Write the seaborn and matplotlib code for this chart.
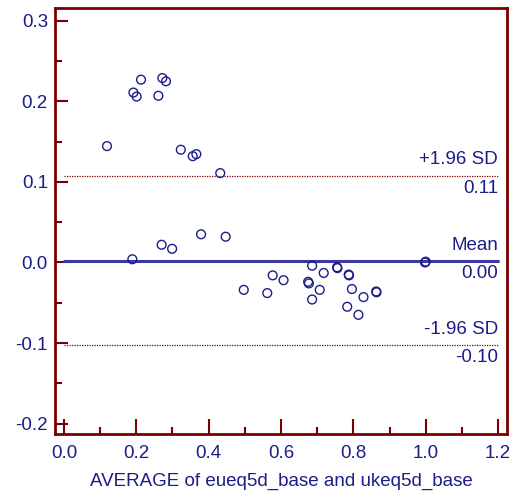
import numpy as np
import pandas as pd
import matplotlib
matplotlib.use("Agg")
import matplotlib.pyplot as plt
import seaborn as sns
from matplotlib.ticker import MultipleLocator

sns.set_theme(style="white")
plt.rcParams["font.family"] = ["Liberation Sans", "DejaVu Sans"]

# Bland-Altman: mean of the two scores vs their difference
avg = [0.119, 0.192, 0.201, 0.213, 0.261, 0.272, 0.282, 0.323, 0.356, 0.366,
       0.432, 0.379, 0.447, 0.270, 0.299, 0.189, 0.497, 0.562, 0.577, 0.607,
       0.675, 0.677, 0.686, 0.686, 0.707, 0.718, 0.755, 0.756, 0.787, 0.788,
       0.796, 0.783, 0.814, 0.828, 0.863, 0.864, 0.998, 1.000]
diff = [0.1445, 0.211, 0.206, 0.227, 0.207, 0.229, 0.225, 0.140, 0.132, 0.1345,
        0.111, 0.035, 0.032, 0.022, 0.017, 0.004, -0.034, -0.038, -0.016, -0.022,
        -0.024, -0.026, -0.004, -0.046, -0.034, -0.013, -0.006, -0.007, -0.015, -0.016,
        -0.033, -0.055, -0.065, -0.043, -0.036, -0.037, 0.000, 0.001]

mean_diff = 0.002
upper_sd = 0.108
lower_sd = -0.103
line_span = [0.0, 1.2]

navy = "#1c1c8a"
dark_red = "#7a0000"
mean_blue = "#3a3aa0"

df = pd.DataFrame({"avg": avg, "diff": diff})

fig = plt.figure(figsize=(5.18, 5.0), dpi=100)
ax = fig.add_axes([0.106, 0.132, 0.873, 0.852])

sns.lineplot(x=line_span, y=[mean_diff] * 2, color=mean_blue, lw=2.2, ax=ax)
sns.lineplot(x=line_span, y=[upper_sd] * 2, color=dark_red, lw=0.9, ls=(0, (1, 1)), ax=ax)
sns.lineplot(x=line_span, y=[lower_sd] * 2, color=dark_red, lw=0.9, ls=(0, (1, 1)), ax=ax)

sns.scatterplot(data=df, x="avg", y="diff", marker="o", s=40,
                facecolor="none", edgecolor=navy, linewidth=1.0, ax=ax, zorder=3)

ax.set_xlim(-0.025, 1.225)
ax.set_ylim(-0.213, 0.316)

ax.xaxis.set_major_locator(MultipleLocator(0.2))
ax.xaxis.set_minor_locator(MultipleLocator(0.1))
ax.yaxis.set_major_locator(MultipleLocator(0.1))
ax.yaxis.set_minor_locator(MultipleLocator(0.05))
ax.xaxis.set_major_formatter(matplotlib.ticker.FormatStrFormatter("%.1f"))
ax.yaxis.set_major_formatter(matplotlib.ticker.FormatStrFormatter("%.1f"))

for s in ax.spines.values():
    s.set_color(dark_red)
    s.set_linewidth(2.0)

ax.tick_params(which="both", direction="in", color=dark_red, width=1.5,
               labelcolor=navy, labelsize=13.5, bottom=True, left=True)
ax.tick_params(axis="x", which="major", length=11, pad=8)
ax.tick_params(axis="x", which="minor", length=5)
ax.tick_params(axis="y", which="major", length=9, pad=5)
ax.tick_params(axis="y", which="minor", length=5)

ax.set_xlabel("AVERAGE of eueq5d_base and ukeq5d_base", color=navy, fontsize=13.5, labelpad=8)
ax.set_ylabel("")

lbl = dict(ha="right", color=navy, fontsize=13.5)
xr = line_span[1]
ax.text(xr, upper_sd + 0.009, "+1.96 SD", va="bottom", **lbl)
ax.text(xr, upper_sd - 0.005, f"{upper_sd:.2f}", va="top", **lbl)
ax.text(xr, mean_diff + 0.009, "Mean", va="bottom", **lbl)
ax.text(xr, mean_diff - 0.005, f"{mean_diff:.2f}", va="top", **lbl)
ax.text(xr, lower_sd + 0.009, "-1.96 SD", va="bottom", **lbl)
ax.text(xr, lower_sd - 0.005, f"{lower_sd:.2f}", va="top", **lbl)

fig.savefig("out.png", dpi=100)
